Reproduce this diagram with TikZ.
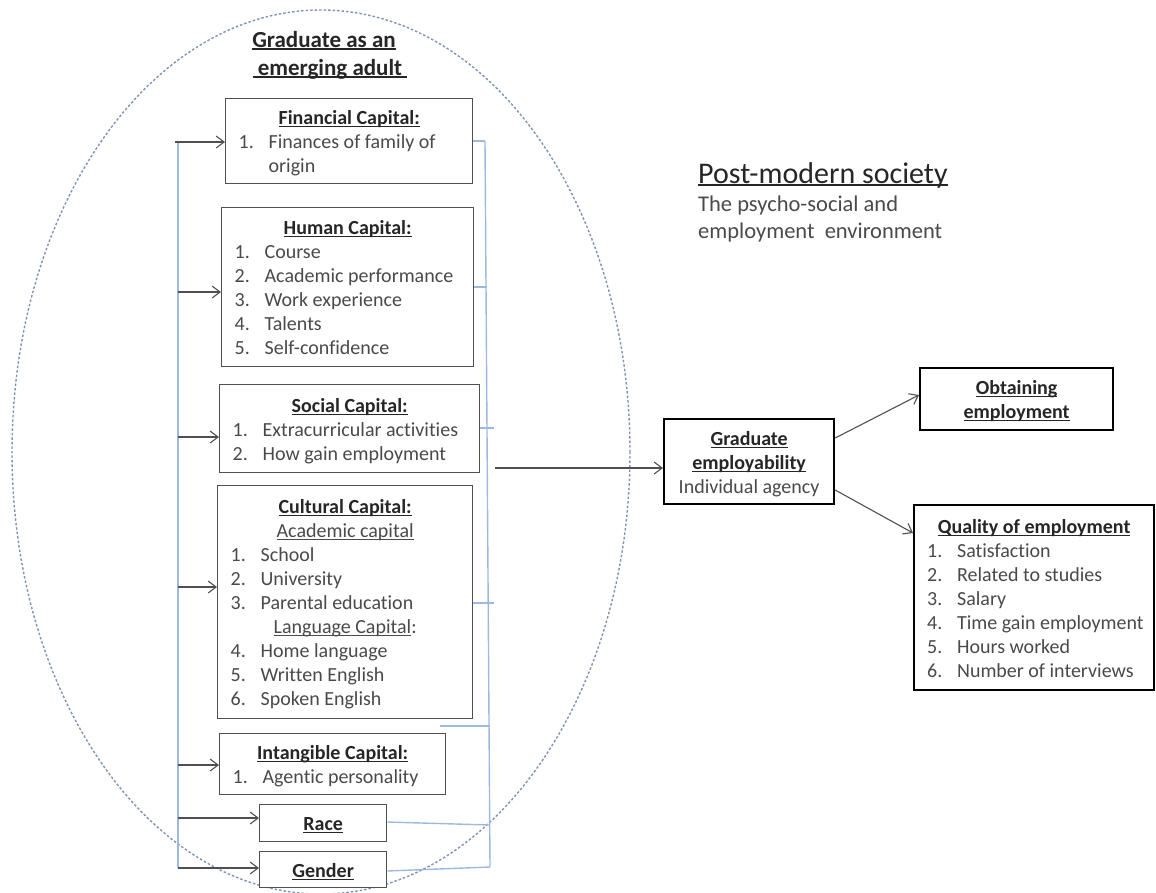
\documentclass[tikz,border=0pt]{standalone}
\usepackage{fontspec}
\setmainfont{Carlito}[Ligatures=NoCommon]
\usetikzlibrary{arrows.meta,calc}
\definecolor{bluel}{HTML}{9DB9E0}
\definecolor{dotc}{HTML}{7F93B5}
\definecolor{txt}{HTML}{4A4A4A}
\definecolor{hd}{HTML}{262626}
\definecolor{arrc}{HTML}{505050}
\newcommand{\mystrut}{\rule[-4.5pt]{0pt}{24pt}}
\newcommand{\myul}[1]{\setbox0\hbox{#1}\rlap{\rule[-2.6pt]{\wd0}{1.2pt}}\box0}
\newcommand{\ctr}[1]{\hbox to\hsize{\hss\mystrut #1\hss}}
\newcommand{\hdl}[1]{\ctr{\color{hd}\bfseries\myul{#1}}}
\newcommand{\itm}[2]{\hbox to\hsize{\hspace*{13pt}\makebox[30pt][l]{#1}\mystrut #2\hss}}
\newcommand{\cnt}[1]{\hbox to\hsize{\hspace*{43pt}\mystrut #1\hss}}
\tikzset{
  lbox/.style={draw=arrc, fill=white, line width=1.3pt, inner sep=0pt, anchor=north west,
    text=txt, font=\fontsize{20}{24}\selectfont},
  rbox/.style={lbox, draw=black, line width=2.2pt},
  bl/.style={draw=bluel, line width=1.4pt},
  arr/.style={draw=arrc, line width=1.1pt, -{Straight Barb[length=8pt,width=12pt,line width=1.1pt]}},
  ttl/.style={inner sep=0pt, anchor=base, text=hd, font=\fontsize{23}{28}\selectfont\bfseries},
  pst/.style={inner sep=0pt, anchor=base west, text=txt, font=\fontsize{22.5}{27}\selectfont}
}
\begin{document}
\begin{tikzpicture}[x=1pt,y=-1pt]
\useasboundingbox (0,0) rectangle (1156,892);
% ellipse
\draw[dotc, line width=1.4pt, dash pattern=on 2.5pt off 2pt] (321,452) ellipse [x radius=309pt, y radius=442pt];
% titles
\node[ttl] (t1) at (324,47) {\myul{Graduate as an}};
\node[ttl] (t2) at (330,75) {\myul{\ emerging adult\ }};
\node[inner sep=0pt, anchor=base west, text=hd, font=\fontsize{30}{36}\selectfont] (pm) at (698,183) {\setbox0\hbox{Post-modern society}\rlap{\rule[-3pt]{\wd0}{1.6pt}}\box0};
\node[pst] (ps1) at (698,211) {The psycho-social and};
\node[pst] (ps2) at (698,238) {employment\ \ environment};
% buses
\coordinate (lb1) at (178,142);
\coordinate (lb2) at (178,868);
\coordinate (rb1) at (485,141);
\coordinate (rb2) at (490,867);
\coordinate (t7) at (440,726);
\draw[bl] (lb1) -- (lb2);
\draw[bl] (rb1) -- (rb2);
% boxes
\node[lbox, minimum width=247pt, minimum height=85pt] (fin) at (225,98)
  {\vbox{\hsize=247pt \hdl{Financial Capital:}\itm{1.}{Finances of family of}\cnt{origin}}};
\node[lbox, minimum width=252pt, minimum height=159pt] (hum) at (221,207)
  {\vbox{\hsize=252pt \hdl{Human Capital:}\itm{1.}{Course}\itm{2.}{Academic performance}\itm{3.}{Work experience}\itm{4.}{Talents}\itm{5.}{Self-confidence}}};
\node[lbox, minimum width=260pt, minimum height=88pt] (soc) at (219,384)
  {\vbox{\hsize=260pt \hdl{Social Capital:}\itm{1.}{Extracurricular activities}\itm{2.}{How gain employment}}};
\node[lbox, minimum width=255pt, minimum height=233pt] (cul) at (217,485)
  {\vbox{\hsize=255pt \hdl{Cultural Capital:}\ctr{\myul{Academic capital}}\itm{1.}{School}\itm{2.}{University}\itm{3.}{Parental education}\ctr{\myul{Language Capital}:}\itm{4.}{Home language}\itm{5.}{Written English}\itm{6.}{Spoken English}}};
\node[lbox, minimum width=226pt, minimum height=61pt] (int) at (219,733)
  {\vbox{\hsize=226pt \hdl{Intangible Capital:}\itm{1.}{Agentic personality}}};
\node[lbox, minimum width=127pt, minimum height=37pt] (race) at (259,804)
  {\vbox{\hsize=127pt \hdl{Race}}};
\node[lbox, minimum width=127pt, minimum height=36pt] (gen) at (259,851)
  {\vbox{\hsize=127pt \hdl{Gender}}};
\node[rbox, minimum width=170pt, minimum height=85pt] (ge) at (663,418)
  {\vbox{\hsize=170pt \hdl{Graduate}\hdl{employability}\ctr{Individual agency}}};
\node[rbox, minimum width=193pt, minimum height=62pt] (obt) at (919,367)
  {\vbox{\hsize=193pt \hdl{Obtaining}\hdl{employment}}};
\node[rbox, minimum width=240pt, minimum height=185pt] (qua) at (913,504)
  {\vbox{\hsize=240pt \hdl{Quality of employment}\itm{1.}{Satisfaction}\itm{2.}{Related to studies}\itm{3.}{Salary}\itm{4.}{Time gain employment}\itm{5.}{Hours worked}\itm{6.}{Number of interviews}}};
% right blue ticks
\draw[bl] (fin.east |- rb1) -- (rb1);
\draw[bl] (hum.east |- 0,287) -- +(13,0);
\draw[bl] (soc.east |- 0,428) -- +(14,0);
\draw[bl] (cul.east |- 0,603) -- +(21,0);
\draw[bl] (t7) -- (t7 -| rb2);
\draw[bl] (race.east |- 0,822) -- (490,825);
\draw[bl] (gen.east |- 0,871) -- (rb2);
% left arrows
\draw[arr] (175,142) -- (fin.west |- 0,142);
\draw[arr] (lb1 |- 0,292) -- (hum.west |- 0,292);
\draw[arr] (lb1 |- 0,437) -- (soc.west |- 0,437);
\draw[arr] (lb1 |- 0,587) -- (cul.west |- 0,587);
\draw[arr] (lb1 |- 0,765) -- (int.west |- 0,765);
\draw[arr] (lb1 |- 0,818) -- (race.west |- 0,818);
\draw[arr] (lb2) -- (gen.west |- lb2);
% main arrows
\coordinate (sa) at (495,468);
\draw[arr] (sa) -- (ge.west |- sa);
\draw[arr] (ge.east |- 0,438) -- (obt.west |- 0,395);
\draw[arr] (ge.east |- 0,490) -- (qua.west |- 0,533);
\end{tikzpicture}
\end{document}
